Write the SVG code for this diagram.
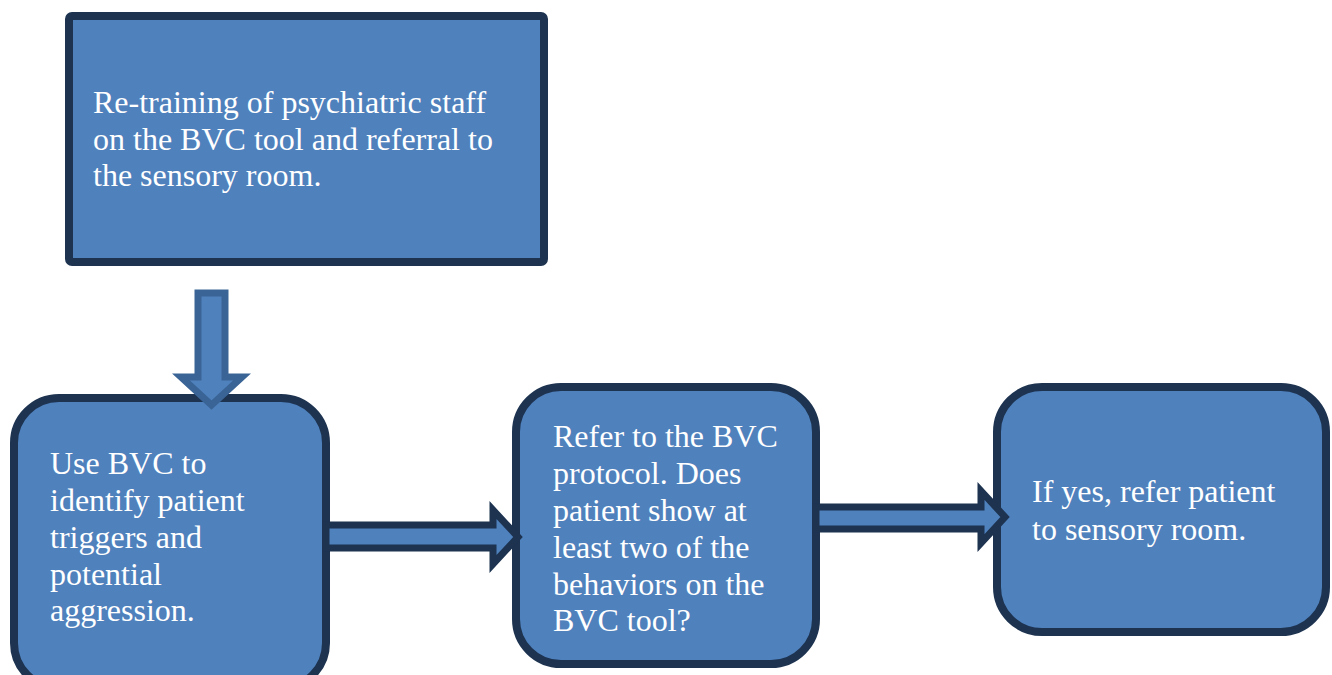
<svg xmlns="http://www.w3.org/2000/svg" width="1332" height="675" viewBox="0 0 1332 675">
<style>
.box{fill:#4f81bd;stroke:#1d3350;stroke-width:8}
.arr{fill:#4f81bd;stroke:#1d3350;stroke-width:7;stroke-linejoin:miter}
.arrd{fill:#4f81bd;stroke:#3a6496;stroke-width:7;stroke-linejoin:miter}
.t{font-family:"Liberation Serif","Times New Roman",serif;font-size:32px;fill:#ffffff}
</style>
<rect width="1332" height="675" fill="#ffffff"/>
<g id="node-retraining">
<rect class="box" x="69" y="16" width="475" height="246" rx="3"/>
<text class="t" x="93" y="113">Re-training of psychiatric staff</text>
<text class="t" x="93" y="150">on the BVC tool and referral to</text>
<text class="t" x="93" y="186">the sensory room.</text>
</g>
<g id="node-usebvc">
<rect class="box" x="14" y="398" width="312" height="290" rx="45"/>
<text class="t" x="50" y="474">Use BVC to</text>
<text class="t" x="50" y="511">identify patient</text>
<text class="t" x="50" y="548">triggers and</text>
<text class="t" x="50" y="585">potential</text>
<text class="t" x="50" y="621">aggression.</text>
</g>
<g id="node-refer">
<rect class="box" x="516" y="387" width="300" height="277" rx="45"/>
<text class="t" x="553" y="447">Refer to the BVC</text>
<text class="t" x="553" y="484">protocol. Does</text>
<text class="t" x="553" y="521">patient show at</text>
<text class="t" x="553" y="558">least two of the</text>
<text class="t" x="553" y="595">behaviors on the</text>
<text class="t" x="553" y="631">BVC tool?</text>
</g>
<g id="node-ifyes">
<rect class="box" x="997" y="387" width="329" height="245" rx="45"/>
<text class="t" x="1032" y="502">If yes, refer patient</text>
<text class="t" x="1032" y="540">to sensory room.</text>
</g>
<g id="connectors">
<polygon class="arrd" points="198,293 225,293 225,377 242,377 211.5,405 181,377 198,377"/>
<polygon class="arr" points="326,525 493,525 493,510 518,537 493,564 493,548 326,548"/>
<polygon class="arr" points="816,507 981,507 981,491 1005,517 981,543 981,529 816,529"/>
</g>
</svg>
